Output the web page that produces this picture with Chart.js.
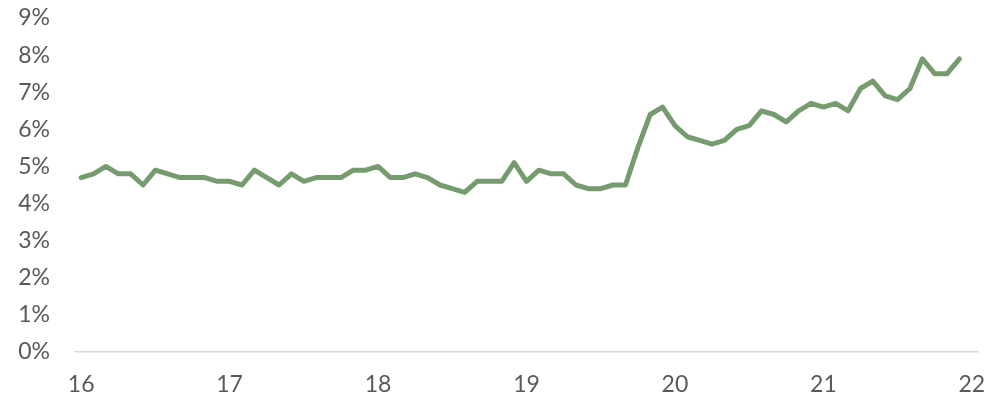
<!DOCTYPE html>
<html>
<head>
<meta charset="utf-8">
<script src="https://cdn.jsdelivr.net/npm/chart.js@4"></script>
<style>
  html, body { margin: 0; padding: 0; background: #ffffff; }
  #wrap { width: 997px; height: 401px; }
</style>
</head>
<body>
<div id="wrap"><canvas id="chart" width="997" height="401"></canvas></div>
<script>
// Year labels shown on the horizontal axis
const years = [16, 17, 18, 19, 20, 21, 22];

// Monthly rate, percent
const rate2016 = [4.7, 4.8, 5.0, 4.8, 4.8, 4.5, 4.9, 4.8, 4.7, 4.7, 4.7, 4.6];
const rate2017 = [4.6, 4.5, 4.9, 4.7, 4.5, 4.8, 4.6, 4.7, 4.7, 4.7, 4.9, 4.9];
const rate2018 = [5.0, 4.7, 4.7, 4.8, 4.7, 4.5, 4.4, 4.3, 4.6, 4.6, 4.6, 5.1];
const rate2019 = [4.6, 4.9, 4.8, 4.8, 4.5, 4.4, 4.4, 4.5, 4.5, 5.5, 6.4, 6.6];
const rate2020 = [6.1, 5.8, 5.7, 5.6, 5.7, 6.0, 6.1, 6.5, 6.4, 6.2, 6.5, 6.7];
const rate2021 = [6.6, 6.7, 6.5, 7.1, 7.3, 6.9, 6.8, 7.1, 7.9, 7.5, 7.5, 7.9];

// Vertical axis tick values, percent
const yTicks = [0, 1, 2, 3, 4, 5, 6, 7, 8, 9];

const rates = [].concat(rate2016, rate2017, rate2018, rate2019, rate2020, rate2021);

// One category per month, plus the first month of the closing year
const categories = [];
years.slice(0, -1).forEach(y => {
  for (let m = 1; m <= 12; m++) categories.push(y + '-' + m);
});
categories.push(years[years.length - 1] + '-1');

const labelFont = { family: 'Lato, "Open Sans", sans-serif', size: 23 };
const labelColor = '#595959';

new Chart(document.getElementById('chart'), {
  type: 'line',
  data: {
    labels: categories,
    datasets: [{
      data: rates,
      borderColor: '#769b6e',
      borderWidth: 5,
      borderJoinStyle: 'round',
      borderCapStyle: 'round',
      pointRadius: 0,
      pointHoverRadius: 0,
      tension: 0,
      fill: false
    }]
  },
  options: {
    responsive: false,
    animation: false,
    devicePixelRatio: 1,
    layout: { padding: { top: 18, right: 19, bottom: 0, left: 0 } },
    plugins: {
      legend: { display: false },
      tooltip: { enabled: false }
    },
    scales: {
      x: {
        type: 'category',
        offset: true,
        grid: { display: false, drawTicks: false },
        border: { display: true, color: '#d9d9d9', width: 1.5 },
        afterFit: s => {
          s.height = 49;
          s.paddingLeft = 0;
          s.paddingRight = 0;
        },
        ticks: {
          autoSkip: false,
          maxRotation: 0,
          padding: 19,
          color: labelColor,
          font: labelFont,
          callback: (v, i) => (i % 12 === 0 ? String(years[i / 12]) : '')
        }
      },
      y: {
        min: yTicks[0],
        max: yTicks[yTicks.length - 1],
        grid: { display: false, drawTicks: false },
        border: { display: false },
        afterFit: s => {
          s.width = 75;
          s.paddingTop = 0;
          s.paddingBottom = 0;
        },
        afterBuildTicks: s => { s.ticks = yTicks.map(v => ({ value: v })); },
        ticks: {
          padding: 25,
          color: labelColor,
          font: labelFont,
          callback: v => v + '%'
        }
      }
    }
  }
});
</script>
</body>
</html>
